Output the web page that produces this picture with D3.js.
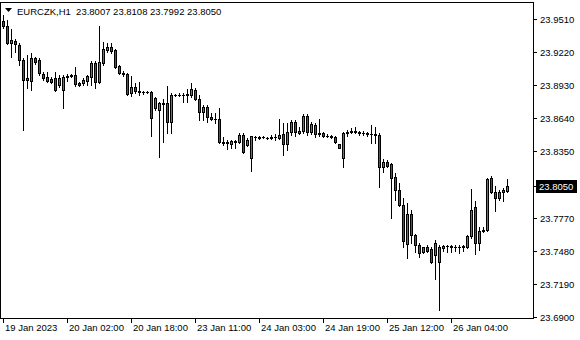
<!DOCTYPE html>
<html>
<head>
<meta charset="utf-8">
<script src="https://d3js.org/d3.v7.min.js"></script>
<style>
body { margin: 0; background: #fff; }
svg { display: block; }
text { font-family: "Liberation Sans", Arial, sans-serif; font-size: 9.5px; fill: #000; }
</style>
</head>
<body>
<svg width="580" height="340"></svg>
<script>
// EURCZK H1 candles, one per hour, oldest first
var opens = [23.9492,23.9448,23.9300,23.9317,23.9282,23.9150,23.8975,23.8966,23.9168,23.9150,
  23.9028,23.9001,23.8984,23.8993,23.8931,23.8888,23.9001,23.9010,23.9019,23.8949,
  23.8949,23.8966,23.9001,23.9124,23.8957,23.9124,23.9238,23.9264,23.9238,23.9098,
  23.9037,23.9028,23.8861,23.8914,23.8879,23.8872,23.8870,23.8868,23.8730,23.8712,
  23.8774,23.8774,23.8607,23.8844,23.8842,23.8844,23.8842,23.8844,23.8888,23.8809,
  23.8695,23.8739,23.8651,23.8634,23.8634,23.8432,23.8423,23.8415,23.8441,23.8432,
  23.8494,23.8406,23.8292,23.8476,23.8467,23.8476,23.8467,23.8469,23.8476,23.8467,
  23.8502,23.8415,23.8520,23.8607,23.8511,23.8529,23.8660,23.8520,23.8581,23.8511,
  23.8511,23.8485,23.8483,23.8476,23.8415,23.8292,23.8511,23.8520,23.8529,23.8520,
  23.8511,23.8513,23.8502,23.8500,23.8494,23.8213,23.8257,23.8239,23.8126,23.8012,
  23.7880,23.7539,23.7801,23.7617,23.7530,23.7468,23.7512,23.7495,23.7442,23.7381,
  23.7504,23.7521,23.7519,23.7512,23.7514,23.7512,23.7512,23.7609,23.7863,23.7547,
  23.7652,23.7661,23.8117,23.7994,23.7941,23.7994,23.8007];
var highs = [23.9544,23.9501,23.9422,23.9335,23.9300,23.9168,23.9194,23.9212,23.9177,23.9168,
  23.9045,23.9045,23.9001,23.9045,23.9019,23.9019,23.9028,23.9028,23.9089,23.8957,
  23.8993,23.9019,23.9142,23.9142,23.9448,23.9308,23.9300,23.9300,23.9247,23.9106,
  23.9054,23.9037,23.9010,23.8949,23.8957,23.8879,23.8879,23.8879,23.8826,23.8783,
  23.8809,23.8923,23.8861,23.8853,23.8861,23.8861,23.8896,23.8949,23.8905,23.8844,
  23.8756,23.8756,23.8686,23.8686,23.8730,23.8476,23.8450,23.8450,23.8450,23.8511,
  23.8511,23.8467,23.8487,23.8485,23.8485,23.8485,23.8476,23.8494,23.8502,23.8634,
  23.8599,23.8599,23.8625,23.8625,23.8564,23.8677,23.8677,23.8607,23.8599,23.8634,
  23.8520,23.8502,23.8490,23.8485,23.8418,23.8520,23.8537,23.8555,23.8564,23.8529,
  23.8529,23.8520,23.8581,23.8564,23.8511,23.8283,23.8274,23.8248,23.8161,23.8073,
  23.7941,23.7898,23.7836,23.7626,23.7547,23.7514,23.7530,23.7512,23.7574,23.7530,
  23.7530,23.7530,23.7530,23.7530,23.7530,23.7530,23.7617,23.8021,23.7915,23.7687,
  23.7687,23.8117,23.8134,23.8047,23.8012,23.8029,23.8108];
var lows = [23.9431,23.9291,23.9177,23.9220,23.9106,23.8537,23.8905,23.8888,23.9115,23.9019,
  23.8975,23.8957,23.8949,23.8879,23.8914,23.8730,23.8966,23.9001,23.8923,23.8923,
  23.8931,23.8931,23.8931,23.8905,23.8949,23.9106,23.9220,23.9212,23.9080,23.9028,
  23.9010,23.8844,23.8835,23.8861,23.8844,23.8853,23.8861,23.8485,23.8712,23.8300,
  23.8432,23.8511,23.8511,23.8835,23.8835,23.8783,23.8783,23.8826,23.8800,23.8625,
  23.8625,23.8607,23.8625,23.8599,23.8423,23.8406,23.8371,23.8380,23.8380,23.8423,
  23.8336,23.8397,23.8178,23.8450,23.8459,23.8467,23.8459,23.8459,23.8450,23.8459,
  23.8318,23.8362,23.8494,23.8485,23.8502,23.8511,23.8494,23.8502,23.8476,23.8485,
  23.8476,23.8476,23.8467,23.8423,23.8378,23.8213,23.8485,23.8511,23.8511,23.8494,
  23.8494,23.8485,23.8423,23.8423,23.8038,23.8169,23.8213,23.7766,23.7924,23.7871,
  23.7512,23.7416,23.7547,23.7468,23.7425,23.7460,23.7468,23.7372,23.7232,23.6960,
  23.7477,23.7468,23.7468,23.7477,23.7460,23.7477,23.7504,23.7591,23.7451,23.7486,
  23.7644,23.7652,23.7985,23.7828,23.7924,23.7915,23.7992];
var closes = [23.9448,23.9300,23.9326,23.9291,23.9150,23.8975,23.8993,23.9168,23.9133,23.9037,
  23.8993,23.8966,23.8957,23.8888,23.8993,23.9001,23.9010,23.9019,23.8940,23.8931,
  23.8975,23.9010,23.9124,23.8957,23.9133,23.9247,23.9264,23.9229,23.9089,23.9037,
  23.9028,23.8853,23.8914,23.8879,23.8870,23.8870,23.8868,23.8642,23.8818,23.8774,
  23.8765,23.8607,23.8844,23.8842,23.8844,23.8842,23.8853,23.8896,23.8809,23.8695,
  23.8739,23.8651,23.8634,23.8632,23.8432,23.8423,23.8432,23.8441,23.8432,23.8494,
  23.8344,23.8450,23.8485,23.8478,23.8476,23.8474,23.8469,23.8476,23.8474,23.8494,
  23.8415,23.8520,23.8607,23.8520,23.8529,23.8660,23.8520,23.8590,23.8502,23.8502,
  23.8485,23.8483,23.8476,23.8432,23.8380,23.8511,23.8520,23.8529,23.8520,23.8511,
  23.8513,23.8502,23.8500,23.8494,23.8213,23.8257,23.8222,23.8117,23.8012,23.7880,
  23.7565,23.7801,23.7617,23.7530,23.7460,23.7512,23.7477,23.7381,23.7547,23.7512,
  23.7521,23.7519,23.7512,23.7514,23.7512,23.7521,23.7609,23.7836,23.7547,23.7652,
  23.7661,23.8108,23.7994,23.7941,23.7994,23.8012,23.8050];

var timeLabels = ["19 Jan 2023","20 Jan 02:00","20 Jan 18:00","23 Jan 11:00",
  "24 Jan 03:00","24 Jan 19:00","25 Jan 12:00","26 Jan 04:00"];
var timeLabelBars = [0,16,32,48,64,80,96,112];
var priceTicks = [23.9510,23.9220,23.8930,23.8640,23.8350,23.7770,23.7480,23.7190,23.6900];
var symbol = "EURCZK,H1";

var svg = d3.select("svg");
var plotRight = 533, plotBottom = 318;
var upColor = "#2ca02c", downColor = "#e8141b";

var x = d3.scaleLinear().domain([0, 126]).range([3, 507]);
var y = d3.scaleLinear().domain([23.6900, 23.9510]).range([317, 19]);

var bars = d3.range(closes.length).map(function(i) {
  return {i: i, o: opens[i], h: highs[i], l: lows[i], c: closes[i]};
});

// frame
svg.append("rect").attr("x", 0.5).attr("y", 2.5)
  .attr("width", plotRight).attr("height", plotBottom - 2)
  .attr("fill", "none").attr("stroke", "#000");

var g = svg.append("g");
var candle = g.selectAll("g.c").data(bars).enter().append("g").attr("class", "c");

// wicks
candle.append("rect")
  .attr("x", function(d) { return Math.round(x(d.i)); })
  .attr("y", function(d) { return Math.round(y(d.h)); })
  .attr("width", 1)
  .attr("height", function(d) { return Math.round(y(d.l)) - Math.round(y(d.h)) + 1; })
  .attr("fill", "#000");

// bodies: black outline with coloured core
candle.append("rect")
  .attr("x", function(d) { return Math.round(x(d.i)) - 1; })
  .attr("y", function(d) { return Math.round(y(Math.max(d.o, d.c))); })
  .attr("width", 3)
  .attr("height", function(d) { return Math.round(y(Math.min(d.o, d.c))) - Math.round(y(Math.max(d.o, d.c))) + 1; })
  .attr("fill", "#000");

candle.append("rect")
  .attr("x", function(d) { return Math.round(x(d.i)); })
  .attr("y", function(d) { return Math.round(y(Math.max(d.o, d.c))) + 1; })
  .attr("width", 1)
  .attr("height", function(d) {
    var hgt = Math.round(y(Math.min(d.o, d.c))) - Math.round(y(Math.max(d.o, d.c))) - 1;
    return Math.max(0, hgt);
  })
  .attr("fill", function(d) { return d.c >= d.o ? upColor : downColor; });

// price axis
var yAxis = svg.append("g");
yAxis.selectAll("line").data(priceTicks).enter().append("line")
  .attr("x1", plotRight + 0.5).attr("x2", plotRight + 4)
  .attr("y1", function(d) { return Math.round(y(d)) + 0.5; })
  .attr("y2", function(d) { return Math.round(y(d)) + 0.5; })
  .attr("stroke", "#000");
yAxis.selectAll("text").data(priceTicks).enter().append("text")
  .attr("x", 540)
  .attr("y", function(d) { return Math.round(y(d)) + 4; })
  .text(function(d) { return d.toFixed(4); });

// current price marker
var last = closes[closes.length - 1];
var ly = Math.round(y(last));
svg.append("line").attr("x1", plotRight + 0.5).attr("x2", plotRight + 4)
  .attr("y1", ly + 0.5).attr("y2", ly + 0.5).attr("stroke", "#000");
svg.append("rect").attr("x", 536).attr("y", ly - 6).attr("width", 41).attr("height", 13).attr("fill", "#000");
svg.append("text").attr("x", 539).attr("y", ly + 4).style("fill", "#fff").text(last.toFixed(4));

// time axis
var xAxis = svg.append("g");
xAxis.selectAll("line").data(timeLabelBars).enter().append("line")
  .attr("x1", function(d) { return Math.round(x(d)) + 0.5; })
  .attr("x2", function(d) { return Math.round(x(d)) + 0.5; })
  .attr("y1", plotBottom).attr("y2", plotBottom + 5)
  .attr("stroke", "#000");
xAxis.selectAll("text").data(timeLabelBars).enter().append("text")
  .attr("x", function(d) { return Math.round(x(d)) + 2; })
  .attr("y", 331)
  .text(function(d, k) { return timeLabels[k]; });

// header
svg.append("path").attr("d", "M5,8 L12,8 L8.5,12 Z").attr("fill", "#000");
svg.append("text").attr("x", 17).attr("y", 15).attr("xml:space", "preserve")
  .text(symbol + "  " + [opens[126], highs[126], lows[126], closes[126]].map(function(v) { return v.toFixed(4); }).join(" "));
</script>
</body>
</html>
